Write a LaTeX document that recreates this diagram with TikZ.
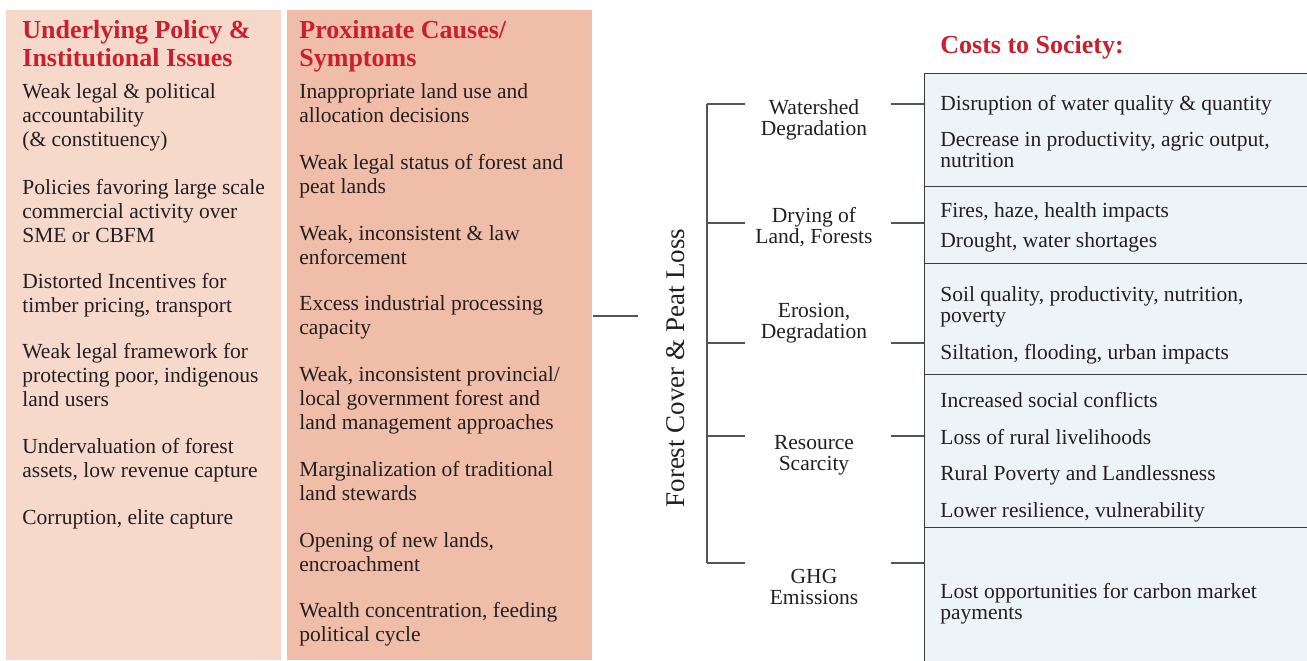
\documentclass[tikz,border=0pt]{standalone}
\usepackage{fontspec}
\setmainfont{Liberation Serif}
\usetikzlibrary{positioning}

\definecolor{titlered}{HTML}{C8202F}
\definecolor{policyfill}{HTML}{F7D9CB}
\definecolor{causefill}{HTML}{F0BEA8}
\definecolor{costfill}{HTML}{EDF4F8}
\definecolor{inkgray}{HTML}{231F20}
\definecolor{linegray}{HTML}{555555}

\tikzset{
  coltitle/.style={anchor=base west, inner sep=0, align=left, text=titlered,
    yshift=-1pt, font=\fontsize{13}{14}\selectfont\bfseries},
  colitem/.style={anchor=base west, inner sep=0, align=left, text=inkgray,
    yshift=-1pt, font=\fontsize{10.75}{12}\selectfont},
  effect/.style={anchor=base, inner sep=0, align=center, text=inkgray,
    yshift=-1pt, font=\fontsize{10.75}{10.5}\selectfont},
  cost/.style={anchor=base west, inner sep=0, align=left, text=inkgray,
    yshift=-0.75pt, font=\fontsize{10.75}{10.5}\selectfont},
  colbox/.style={anchor=north west, inner sep=0, minimum height=325pt},
  costbox/.style={draw=linegray!70!black, fill=costfill, line width=0.6pt,
    anchor=north west, inner sep=0, minimum width=198pt},
  tick/.style={draw=linegray, line width=0.75pt},
}

\begin{document}
\begin{tikzpicture}[x=0.5pt, y=-0.5pt]
  \useasboundingbox (0,0) rectangle (1307,660);

  % columns
  \node[colbox, fill=policyfill, minimum width=137.5pt] (policy) at (6,10) {};
  \node[colbox, fill=causefill, minimum width=152.5pt] (causes) at (287,10) {};

  % left column (base = last line)
  \node[coltitle] (pol0) at (22,64) {Underlying Policy \&\\Institutional Issues};
  \node[colitem] (pol1) at (22,144) {Weak legal \& political\\accountability\\(\& constituency)};
  \node[colitem] (pol2) at (22,240) {Policies favoring large scale\\commercial activity over\\SME or CBFM};
  \node[colitem] (pol3) at (22,310) {Distorted Incentives for\\timber pricing, transport};
  \node[colitem] (pol4) at (22,404) {Weak legal framework for\\protecting poor, indigenous\\land users};
  \node[colitem] (pol5) at (22,475) {Undervaluation of forest\\assets, low revenue capture};
  \node[colitem] (pol6) at (22,522) {Corruption, elite capture};

  % middle column
  \node[coltitle] (cau0) at (299,64) {Proximate Causes/\\Symptoms};
  \node[colitem] (cau1) at (299,120) {Inappropriate land use and\\allocation decisions};
  \node[colitem] (cau2) at (299,191) {Weak legal status of forest and\\peat lands};
  \node[colitem] (cau3) at (299,262) {Weak, inconsistent \& law\\enforcement};
  \node[colitem] (cau4) at (299,332) {Excess industrial processing\\capacity};
  \node[colitem] (cau5) at (299,427) {Weak, inconsistent provincial/\\local government forest and\\land management approaches};
  \node[colitem] (cau6) at (299,498) {Marginalization of traditional\\land stewards};
  \node[colitem] (cau7) at (299,569) {Opening of new lands,\\encroachment};
  \node[colitem] (cau8) at (299,639) {Wealth concentration, feeding\\political cycle};

  % loss
  \node[rotate=90, inner sep=0, text=inkgray, font=\fontsize{13.5}{14}\selectfont] (loss) at (676,368) {Forest Cover \& Peat Loss};
  \coordinate (trunk) at (638,316);
  \draw[tick] (causes.east |- trunk) -- (trunk);

  % effects
  \node[effect] (water) at (814,133) {Watershed\\Degradation};
  \node[effect] (dry) at (814,241) {Drying of\\Land, Forests};
  \node[effect] (erode) at (814,336) {Erosion,\\Degradation};
  \node[effect] (scarce) at (814,468) {Resource\\Scarcity};
  \node[effect] (ghg) at (814,602) {GHG\\Emissions};

  % costs
  \node[text=titlered, font=\fontsize{13}{14}\selectfont\bfseries, anchor=base west, inner sep=0] (costs) at (940,53) {Costs to Society:};
  \node[costbox, minimum height=56.5pt] (cost1) at (924,73) {};
  \node[costbox, minimum height=38.5pt] (cost2) at (924,186) {};
  \node[costbox, minimum height=55.5pt] (cost3) at (924,263) {};
  \node[costbox, minimum height=76.5pt] (cost4) at (924,374) {};
  \node[costbox, minimum height=72pt] (cost5) at (924,527) {};

  \node[cost] (c1a) at (940,109) {Disruption of water quality \& quantity};
  \node[cost] (c1b) at (940,166) {Decrease in productivity, agric output,\\nutrition};
  \node[cost] (c2a) at (940,216) {Fires, haze, health impacts};
  \node[cost] (c2b) at (940,246) {Drought, water shortages};
  \node[cost] (c3a) at (940,321) {Soil quality, productivity, nutrition,\\poverty};
  \node[cost] (c3b) at (940,358) {Siltation, flooding, urban impacts};
  \node[cost] (c4a) at (940,406) {Increased social conflicts};
  \node[cost] (c4b) at (940,443) {Loss of rural livelihoods};
  \node[cost] (c4c) at (940,479) {Rural Poverty and Landlessness};
  \node[cost] (c4d) at (940,516) {Lower resilience, vulnerability};
  \node[cost] (c5a) at (940,618) {Lost opportunities for carbon market\\payments};

  % spine and ticks
  \coordinate (spinetop) at (707,104);
  \coordinate (spinebot) at (707,563);
  \draw[tick] (spinetop) -- (spinebot);
  \foreach \n/\c/\y in {water/cost1/104, dry/cost2/223, erode/cost3/343, scarce/cost4/436, ghg/cost5/563} {
    \coordinate (\n-l) at (707,\y);
    \coordinate (\n-r) at (891,\y);
    \draw[tick] (\n-l) -- +(38,0);
    \draw[tick] (\n-r) -- (\n-r -| \c.west);
  }
\end{tikzpicture}
\end{document}
